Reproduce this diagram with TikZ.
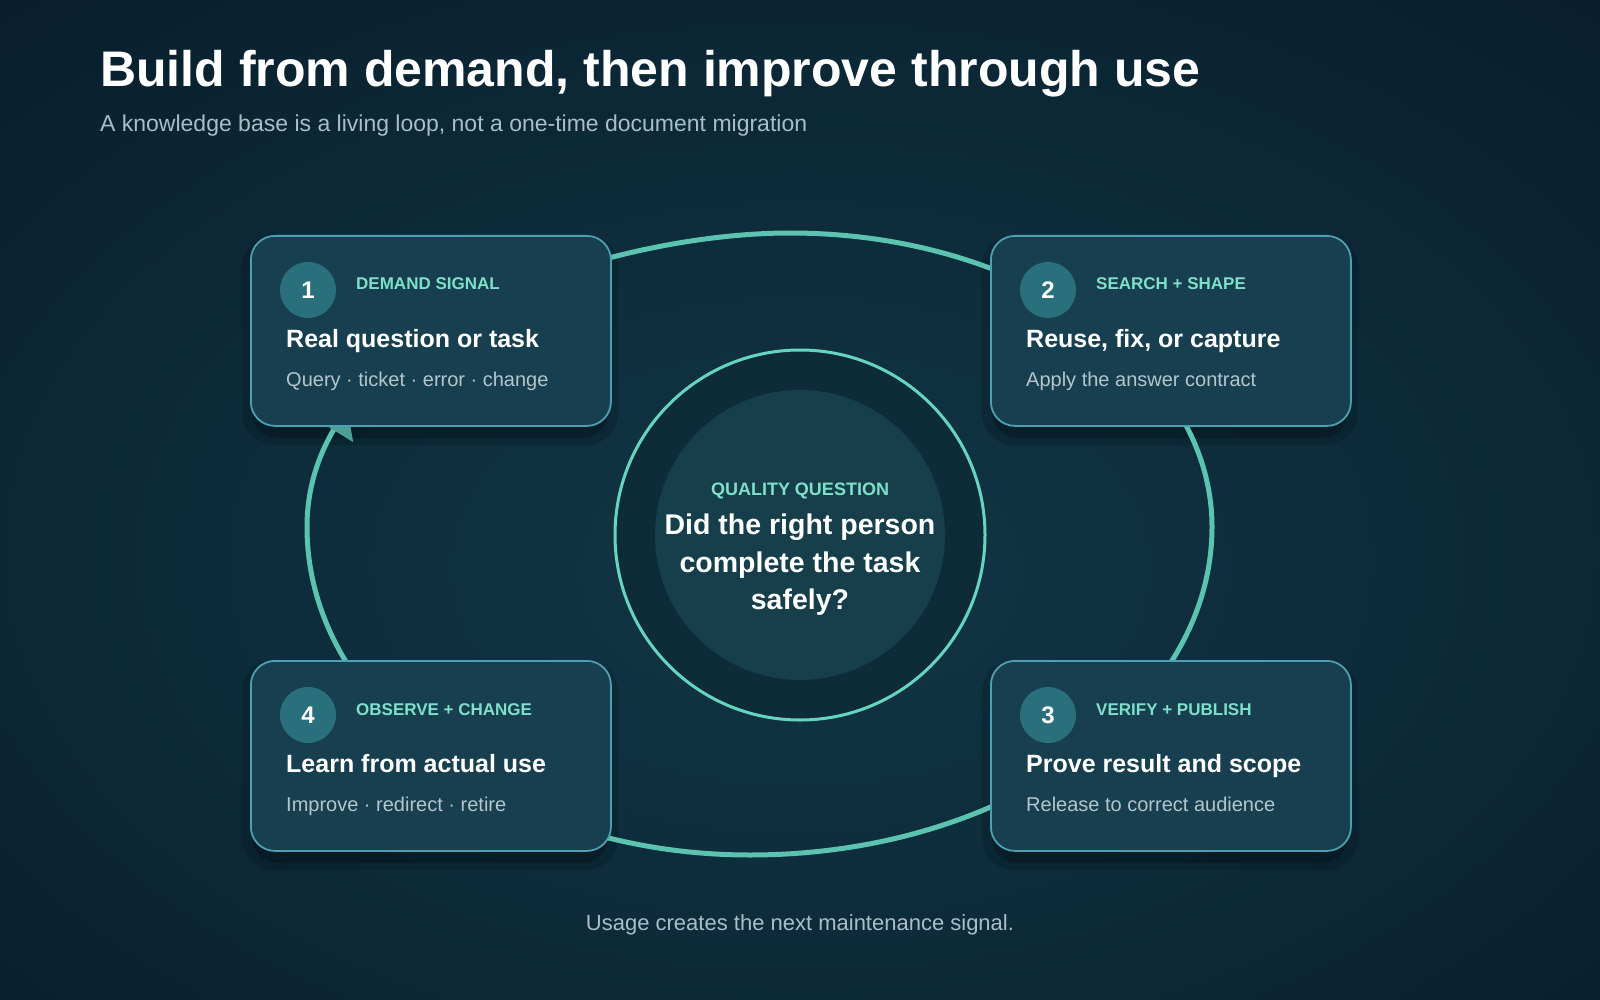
\documentclass[tikz,border=0pt]{standalone}
\usepackage{fontspec}
\setmainfont{Liberation Sans}
\definecolor{bgA}{HTML}{113545}
\definecolor{bgB}{HTML}{0E2D3C}
\definecolor{bgC}{HTML}{081D2B}
\definecolor{bgD}{HTML}{051522}
\definecolor{cardfill}{HTML}{173F4F}
\definecolor{cardborder}{HTML}{4E9FB2}
\definecolor{shadowc}{HTML}{05141C}
\definecolor{loopc}{HTML}{5CC3B1}
\definecolor{arrowc}{HTML}{4D9F93}
\definecolor{ringc}{HTML}{66D5C0}
\definecolor{ringfill}{HTML}{0D2B39}
\definecolor{corefill}{HTML}{163E4B}
\definecolor{numfill}{HTML}{2A6F7C}
\definecolor{mint}{HTML}{7FE0C9}
\definecolor{subc}{HTML}{B3C6CD}
\definecolor{subt}{HTML}{A9BEC8}
\pgfdeclareradialshading{bgshade}{\pgfpoint{0bp}{-4bp}}{color(0bp)=(bgA); color(16bp)=(bgB); color(38bp)=(bgC); color(72bp)=(bgD)}
\newcommand\fs[1]{\fontsize{#1}{#1}\selectfont}
\tikzset{
  card/.style={draw=cardborder, line width=1.8pt, fill=cardfill, rounded corners=24pt,
    minimum width=360pt, minimum height=190pt, inner sep=0pt, anchor=north west},
  numdot/.style={circle, fill=numfill, minimum size=56pt, inner sep=0pt, text=white, font=\bfseries\fs{24}},
  cardlab/.style={anchor=base west, inner sep=0pt, text=mint, font=\bfseries\fs{17}},
  cardttl/.style={anchor=base west, inner sep=0pt, text=white, font=\bfseries\fs{25}},
  cardsub/.style={anchor=base west, inner sep=0pt, text=subc, font=\fs{20}},
  qline/.style={anchor=base, inner sep=0pt, text=white, font=\bfseries\fs{28.5}},
}
\newcommand\cardshadow[2]{%
  \begin{scope}[shift={(#1,#2)}]
    \fill[shadowc, opacity=0.25, rounded corners=32pt] (-8,0) rectangle (368,210);
    \fill[shadowc, opacity=0.45, rounded corners=26pt] (2,8) rectangle (358,203);
  \end{scope}}
\newcommand\mycard[6]{%
  \begin{scope}[shift={(#1,#2)}]
    \node[card] (card#3) at (0,0) {};
    \node[numdot] (num#3) at (58,55) {#3};
    \node[cardlab] (lab#3) at (106,55) {#4};
    \node[cardttl] (ttl#3) at (36,112) {#5};
    \node[cardsub] (sub#3) at (36,151) {#6};
  \end{scope}}
\begin{document}
\begin{tikzpicture}[x=1pt,y=-1pt]
\useasboundingbox (0,0) rectangle (1600,1000);
\shade[shading=bgshade] (0,0) rectangle (1600,1000);
% title
\node[anchor=base west, inner sep=0pt, text=white, font=\bfseries\fs{50}] (title) at (100,87) {Build from demand, then improve through use};
\node[anchor=base west, inner sep=0pt, text=subt, font=\fs{23}] (subtitle) at (100,132) {A knowledge base is a living loop, not a one-time document migration};
% shadows
\cardshadow{250}{235}
\cardshadow{990}{235}
\cardshadow{990}{660}
\cardshadow{250}{660}
% loop
\draw[loopc, line width=5pt] (790,233) .. controls (1023,233) and (1212,365) .. (1212,527)
  .. controls (1212,708) and (1005,855) .. (750,855)
  .. controls (505,855) and (307,708) .. (307,527)
  .. controls (307,327) and (610,233) .. (790,233);
\fill[arrowc] (347.1,408.3) -- (353.2,442.1) -- (316.8,419.9) -- cycle;
% cards
\mycard{250}{235}{1}{DEMAND SIGNAL}{Real question or task}{Query · ticket · error · change}
\mycard{990}{235}{2}{SEARCH + SHAPE}{Reuse, fix, or capture}{Apply the answer contract}
\mycard{990}{660}{3}{VERIFY + PUBLISH}{Prove result and scope}{Release to correct audience}
\mycard{250}{660}{4}{OBSERVE + CHANGE}{Learn from actual use}{Improve · redirect · retire}
% center
\node[circle, draw=ringc, line width=3pt, fill=ringfill, minimum size=370pt, inner sep=0pt] (ring) at (800,535) {};
\node[circle, fill=corefill, minimum size=290pt, inner sep=0pt] (core) at (800,535) {};
\node[anchor=base, inner sep=0pt, text=mint, font=\bfseries\fs{18}] (qlabel) at (800,495) {QUALITY QUESTION};
\node[qline] (q1) at (800,534) {Did the right person};
\node[qline] (q2) at (800,572) {complete the task};
\node[qline] (q3) at (800,609) {safely?};
% footer
\node[anchor=base, inner sep=0pt, text=subt, font=\fs{22}] (footer) at (800,930) {Usage creates the next maintenance signal.};
\end{tikzpicture}
\end{document}
